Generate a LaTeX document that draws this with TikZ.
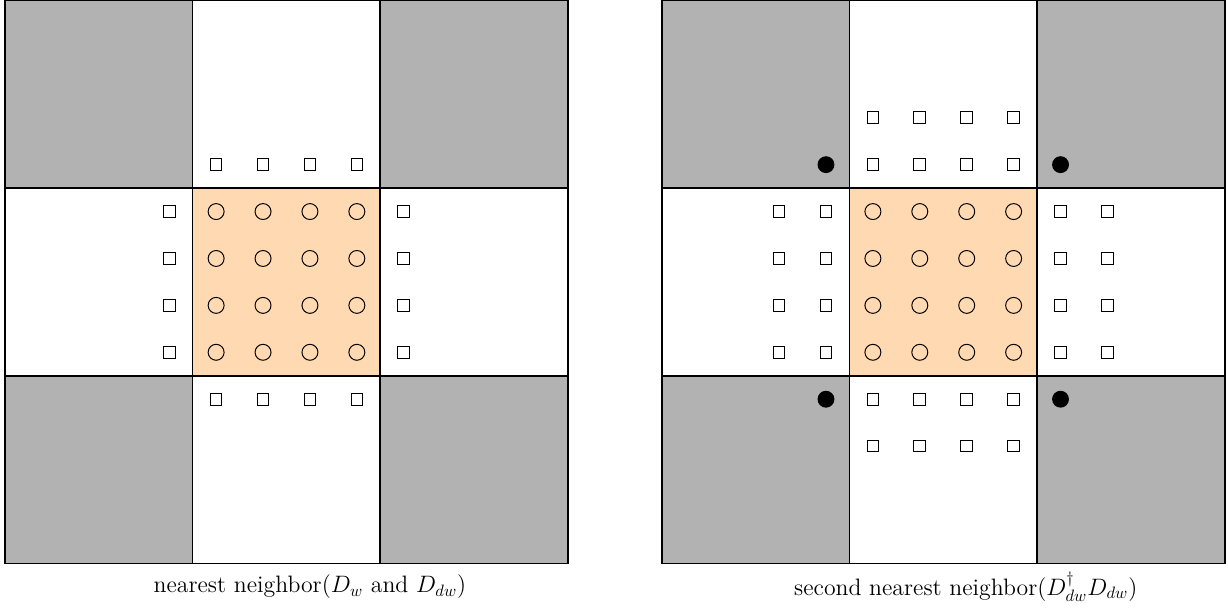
\documentclass[tikz,border=0pt]{standalone}
\begin{document}
\begin{tikzpicture}[x=1cm,y=1cm,
  frame/.style={draw=black,line width=1pt},
  graycell/.style={fill=black!30},
  centercell/.style={fill=orange!30},
  sq/.style={draw=black,line width=0.6pt,fill=white,minimum size=0.25cm,inner sep=0pt,shape=rectangle},
  circ/.style={draw=black,line width=0.6pt,circle,minimum size=0.34cm,inner sep=0pt},
  dot/.style={fill=black,circle,minimum size=0.36cm,inner sep=0pt},
  captiontext/.style={font=\fontsize{14.4}{17}\selectfont}
]
\useasboundingbox (-0.107,-0.93) rectangle (26.07,12.01);
\foreach \ox in {0,14}{
  \begin{scope}[xshift=\ox cm]
    \fill[graycell] (0,0) rectangle (4,4);
    \fill[graycell] (8,0) rectangle (12,4);
    \fill[graycell] (0,8) rectangle (4,12);
    \fill[graycell] (8,8) rectangle (12,12);
    \fill[centercell] (4,4) rectangle (8,8);
    \draw[frame] (0,0) rectangle (12,12);
    \draw[frame] (4,0) -- (4,12) (8,0) -- (8,12) (0,4) -- (12,4) (0,8) -- (12,8);
    \foreach \i in {4.5,5.5,6.5,7.5}{
      \foreach \j in {4.5,5.5,6.5,7.5}{
        \node[circ] at (\i,\j) {};
      }
    }
  \end{scope}
}
% left panel: nearest neighbours
\foreach \k in {4.5,5.5,6.5,7.5}{
  \node[sq] at (3.5,\k) {};
  \node[sq] at (8.5,\k) {};
  \node[sq] at (\k,3.5) {};
  \node[sq] at (\k,8.5) {};
}
% right panel: second nearest neighbours
\begin{scope}[xshift=14cm]
\foreach \k in {4.5,5.5,6.5,7.5}{
  \foreach \m in {2.5,3.5,8.5,9.5}{
    \node[sq] at (\m,\k) {};
    \node[sq] at (\k,\m) {};
  }
}
\node[dot] (d1) at (3.5,8.5) {};
\node[dot] (d2) at (8.5,8.5) {};
\node[dot] (d3) at (3.5,3.5) {};
\node[dot] (d4) at (8.5,3.5) {};
\end{scope}
\node[captiontext] (c1) at (6.5,-0.5) {nearest neighbor($D_w$ and $D_{dw}$)};
\node[captiontext] (c2) at (20.48,-0.5) {second nearest neighbor($D^\dagger_{dw}D_{dw}$)};
\end{tikzpicture}
\end{document}
